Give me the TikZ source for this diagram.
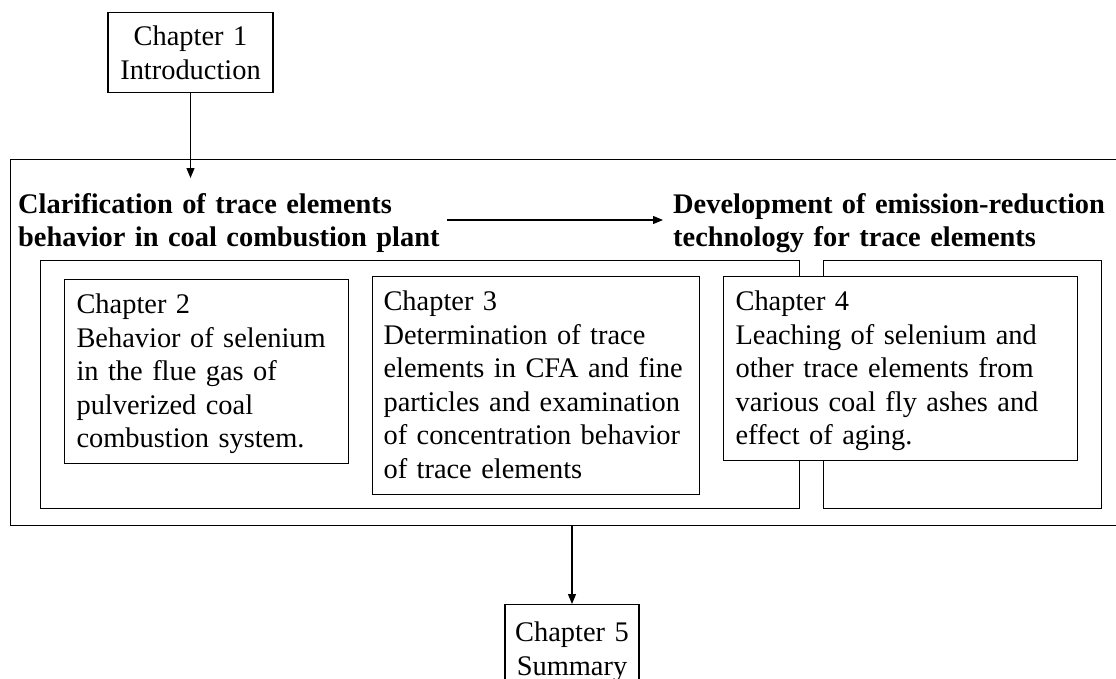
\documentclass[tikz,border=0pt]{standalone}
\usepackage{fontspec}
\setmainfont{Liberation Serif}
\usetikzlibrary{arrows.meta}
\begin{document}
\begin{tikzpicture}[x=1pt,y=-1pt,
  every node/.style={font=\fontsize{28.4}{33.6}\selectfont},
  plainbox/.style={draw, line width=1.1pt, fill=white, anchor=north west, inner sep=0pt},
  chbox/.style={draw, line width=1.1pt, fill=white, anchor=north west, inner ysep=0pt, align=left, text height=34pt},
  endbox/.style={draw, line width=1.1pt, fill=white, anchor=north, inner sep=0pt, align=center},
  head/.style={anchor=north west, inner sep=0pt, align=left, text width=460pt, text height=20pt, font=\fontsize{28.4}{33.6}\selectfont\bfseries},
  conn/.style={line width=1.1pt, -{Triangle[length=10pt,width=8pt]}}
]
\useasboundingbox (0,0) rectangle (1116,678);

\node[endbox, text width=165pt, text height=33pt, text depth=47pt] (c1) at (190.5,12) {Chapter 1\\Introduction};

\node[plainbox, minimum width=1130pt, minimum height=366pt] (outer) at (10,159) {};

\node[head] (left) at (18,193) {Clarification of trace elements\\behavior in coal combustion plant};
\node[head, text width=440pt] (right) at (673,193) {Development of emission-reduction\\technology for trace elements};

\node[plainbox, minimum width=759pt, minimum height=248pt] (inner1) at (40,260) {};
\node[plainbox, minimum width=278pt, minimum height=248pt] (inner2) at (823,260) {};

\node[chbox, inner xsep=12pt, text width=260pt, text depth=150pt] (c2) at (64,279)
  {Chapter 2\\Behavior of selenium\\in the flue gas of\\pulverized coal\\combustion system.};
\node[chbox, inner xsep=11pt, text width=305pt, text depth=184pt] (c3) at (372,276)
  {Chapter 3\\Determination of trace\\elements in CFA and fine\\particles and examination\\of concentration behavior\\of trace elements};
\node[chbox, inner xsep=12pt, text width=330pt, text depth=150pt] (c4) at (723,276)
  {Chapter 4\\Leaching of selenium and\\other trace elements from\\various coal fly ashes and\\effect of aging.};

\node[endbox, text width=134pt, text height=37pt, text depth=60pt] (c5) at (572,604) {Chapter 5\\Summary};

\coordinate (a1end) at (190.5,178);
\coordinate (a2start) at (447,220);
\coordinate (a2end) at (663,220);

\draw[conn] (c1.south) -- (c1.south |- a1end);
\draw[conn] (a2start) -- (a2end);
\draw[conn] (c5.north |- outer.south) -- (c5.north);
\end{tikzpicture}
\end{document}
